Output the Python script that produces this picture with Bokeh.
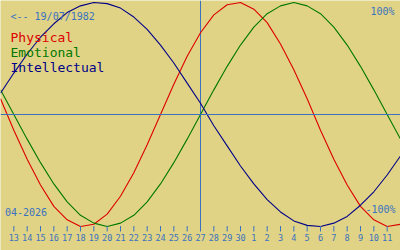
from bokeh.plotting import figure
from bokeh.models import Range1d, Span, Label, ColumnDataSource
from bokeh.embed import file_html
from bokeh.resources import INLINE

# ---- data ----
# x: days relative to "today" (27-04-2026); -15 = 12 April, +15 = 12 May
days = list(range(-15, 16))
physical = [0.14, -0.14, -0.40, -0.63, -0.82, -0.94, -1.00, -0.98, -0.89, -0.73,
            -0.52, -0.27, 0.00, 0.27, 0.52, 0.73, 0.89, 0.98, 1.00, 0.94,
            0.82, 0.63, 0.40, 0.14, -0.14, -0.40, -0.63, -0.82, -0.94, -1.00, -0.98]
emotional = [0.22, 0.00, -0.22, -0.43, -0.62, -0.78, -0.90, -0.97, -1.00, -0.97,
             -0.90, -0.78, -0.62, -0.43, -0.22, 0.00, 0.22, 0.43, 0.62, 0.78,
             0.90, 0.97, 1.00, 0.97, 0.90, 0.78, 0.62, 0.43, 0.22, 0.00, -0.22]
intellectual = [0.19, 0.37, 0.54, 0.69, 0.81, 0.91, 0.97, 1.00, 0.99, 0.95,
                0.87, 0.76, 0.62, 0.46, 0.28, 0.10, -0.10, -0.28, -0.46, -0.62,
                -0.76, -0.87, -0.95, -0.99, -1.00, -0.97, -0.91, -0.81, -0.69, -0.54, -0.37]
tick_days = list(range(-14, 15))
tick_labels = ["13", "14", "15", "16", "17", "18", "19", "20", "21", "22", "23", "24",
               "25", "26", "27", "28", "29", "30", "1", "2", "3", "4", "5", "6", "7",
               "8", "9", "10", "11"]
series_names = ["Physical", "Emotional", "Intellectual"]
birth_text = "<-- 19/07/1982"
month_text = "04-2026"
top_text = "100%"
bottom_text = "-100%"

# ---- styling ----
W, H = 400, 250
BG = "#e0d385"
BLUE = "#3a72c0"
COLORS = ["#dd0000", "#007800", "#000088"]
MONO = "DejaVu Sans Mono"
Y0, AMP = 114.0, 112.0  # pixel row of 0 and pixels per unit
TS = -5.0  # text baseline correction (px)


def py(pix):
    return (Y0 - pix) / AMP


def px(pix):
    return -15 + pix * 30.0 / W


p = figure(width=W, height=H, output_backend="svg", toolbar_location=None,
           x_range=Range1d(-15, 15), y_range=Range1d(py(H), py(0)),
           min_border=0, min_border_left=0, min_border_right=0,
           min_border_top=0, min_border_bottom=0)
p.axis.visible = False
p.grid.visible = False
p.outline_line_color = None
p.background_fill_color = BG
p.border_fill_color = BG

# reference lines
p.add_layout(Span(location=0, dimension="width", line_color=BLUE, line_width=1))
p.segment(x0=[0], y0=[py(0)], x1=[0], y1=[py(229)], line_color=BLUE, line_width=1)

# curves
for vals, col in zip([physical, emotional, intellectual], COLORS):
    p.line(days, vals, line_color=col, line_width=1.1)

# ticks
tsrc = ColumnDataSource(dict(x=tick_days, lab=tick_labels))
p.segment(x0="x", y0=py(225.5), x1="x", y1=py(231), source=tsrc,
          line_color=BLUE, line_width=1)
p.text(x="x", y=py(241 + TS + 0.5), text="lab", source=tsrc, text_align="center",
       text_baseline="alphabetic", text_font_size="8.5px", text_color=BLUE,
       text_font={"value": MONO})

# texts
for name, col, base in zip(series_names, COLORS, [42, 57, 72]):
    p.add_layout(Label(x=px(10), y=py(base + TS), text=name, text_color=col,
                       text_font=MONO, text_font_size="13px",
                       text_baseline="alphabetic", text_align="left"))
p.add_layout(Label(x=px(10), y=py(20.5 + TS), text=birth_text, text_color=BLUE,
                   text_font=MONO, text_font_size="10px",
                   text_baseline="alphabetic", text_align="left"))
p.add_layout(Label(x=px(4.5), y=py(216 + TS), text=month_text, text_color=BLUE,
                   text_font=MONO, text_font_size="10px",
                   text_baseline="alphabetic", text_align="left"))
p.add_layout(Label(x=px(394), y=py(16 + TS), text=top_text, text_color=BLUE,
                   text_font=MONO, text_font_size="10px",
                   text_baseline="alphabetic", text_align="right"))
p.add_layout(Label(x=px(395), y=py(214 + TS), text=bottom_text, text_color=BLUE,
                   text_font=MONO, text_font_size="10px",
                   text_baseline="alphabetic", text_align="right"))

open("out.html", "w").write(file_html(p, INLINE))
